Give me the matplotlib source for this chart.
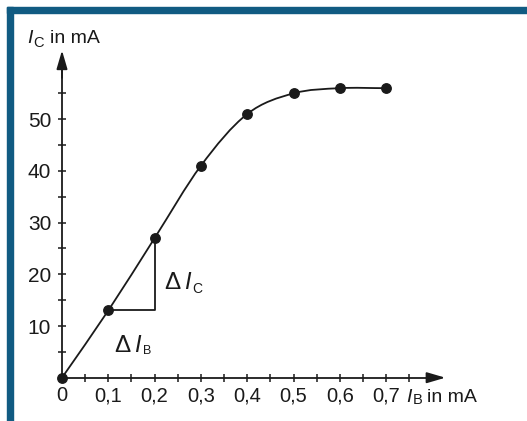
import numpy as np
import matplotlib
matplotlib.use('Agg')
import matplotlib.pyplot as plt
from matplotlib.path import Path
from matplotlib.patches import PathPatch, Rectangle

plt.rcParams['font.family'] = ['Liberation Sans', 'DejaVu Sans']

# measured points: base current IB (mA) vs collector current IC (mA)
ib = [0.0, 0.1, 0.2, 0.3, 0.4, 0.5, 0.6, 0.7]
ic = [0, 13, 27, 41, 51, 55, 56, 56]
x_ticks = [0.0, 0.1, 0.2, 0.3, 0.4, 0.5, 0.6, 0.7]
x_labels = ['0', '0,1', '0,2', '0,3', '0,4', '0,5', '0,6', '0,7']
y_ticks = [10, 20, 30, 40, 50]
y_labels = ['10', '20', '30', '40', '50']
# slope triangle between the points at 0,1 and 0,2
tri_ib = [0.1, 0.2, 0.2]
tri_ic = [13, 13, 27]

ink = '#1a1a1a'
fig = plt.figure(figsize=(5.27, 4.21), dpi=100)
ax = fig.add_axes([0, 0, 1, 1])
ax.patch.set_alpha(0)
ax.set_xlim(-62 / 463, 465 / 463)
ax.set_ylim(-43.3 / 5.17, 377.7 / 5.17)


def px(x, y):
    # pixel position in the picture -> data coordinates
    return (x - 62) / 463, (377.7 - y) / 5.17


# axes through the origin with arrow heads
for s in ['top', 'right']:
    ax.spines[s].set_visible(False)
ax.spines['left'].set_position(('data', 0))
ax.spines['bottom'].set_position(('data', 0))
ax.spines['left'].set_bounds(0, 62)
ax.spines['bottom'].set_bounds(0, 0.81)
for s in ['left', 'bottom']:
    ax.spines[s].set_linewidth(1.3)
    ax.spines[s].set_color(ink)
arr = dict(arrowstyle='-|>,head_length=0.75,head_width=0.22', color=ink, lw=1.3,
           mutation_scale=15, shrinkA=0, shrinkB=0)
ax.annotate('', xy=(0.828, 0), xytext=(0.79, 0), arrowprops=arr)
ax.annotate('', xy=(0, 63.3), xytext=(0, 58), arrowprops=arr)

ax.set_xticks(x_ticks)
ax.set_xticklabels(x_labels)
ax.set_xticks(np.arange(0.05, 0.8, 0.1), minor=True)
ax.set_yticks(y_ticks)
ax.set_yticklabels(y_labels)
ax.set_yticks(np.arange(5, 60, 10), minor=True)
ax.tick_params(which='both', direction='inout', length=5.5, width=1.1, color=ink)
ax.tick_params(axis='x', labelsize=14.5, labelcolor=ink, pad=3.5)
ax.tick_params(axis='y', labelsize=15, labelcolor=ink, pad=5)

# smooth curve through the points (Catmull-Rom as cubic Bezier)
pts = np.column_stack([ib, ic]).astype(float)
tang = np.zeros_like(pts)
tang[1:-1] = (pts[2:] - pts[:-2]) / 2
tang[0] = pts[1] - pts[0]
tang[-1] = pts[-1] - pts[-2]
verts = [pts[0]]
codes = [Path.MOVETO]
for i in range(len(pts) - 1):
    verts += [pts[i] + tang[i] / 3, pts[i + 1] - tang[i + 1] / 3, pts[i + 1]]
    codes += [Path.CURVE4] * 3
ax.add_patch(PathPatch(Path(verts, codes), fill=False, lw=1.3, edgecolor=ink))
ax.plot(ib, ic, 'o', color=ink, markersize=6.8, zorder=5)

ax.plot(tri_ib, tri_ic, color=ink, lw=1.3)


def label(parts):
    for (x, y), s, size, style in parts:
        ax.text(*px(x, y), s, fontsize=size, fontstyle=style, color=ink, va='baseline')


# delta labels at the triangle
label([((164, 289), '\u0394', 17.5, 'normal'), ((184, 289), 'I', 17, 'italic'),
       ((192, 293), 'C', 10, 'normal')])
label([((114, 352), '\u0394', 17.5, 'normal'), ((134, 352), 'I', 17, 'italic'),
       ((143, 354), 'B', 9, 'normal')])

# axis titles
label([((27, 43), 'I', 14, 'italic'), ((33, 47), 'C', 10.5, 'normal'),
       ((50, 43), 'in mA', 14, 'normal')])
label([((406, 402), 'I', 14, 'italic'), ((413, 404), 'B', 10.5, 'normal'),
       ((427, 402), 'in mA', 14, 'normal')])

# blue frame at top and left
blue = '#115b82'
fig.patches.append(Rectangle((7 / 527, 1 - 13 / 421), 520 / 527, 6 / 421,
                             transform=fig.transFigure, color=blue, zorder=10))
fig.patches.append(Rectangle((7 / 527, 0), 6 / 527, 1 - 7 / 421,
                             transform=fig.transFigure, color=blue, zorder=10))

plt.savefig('out.png', dpi=100)
